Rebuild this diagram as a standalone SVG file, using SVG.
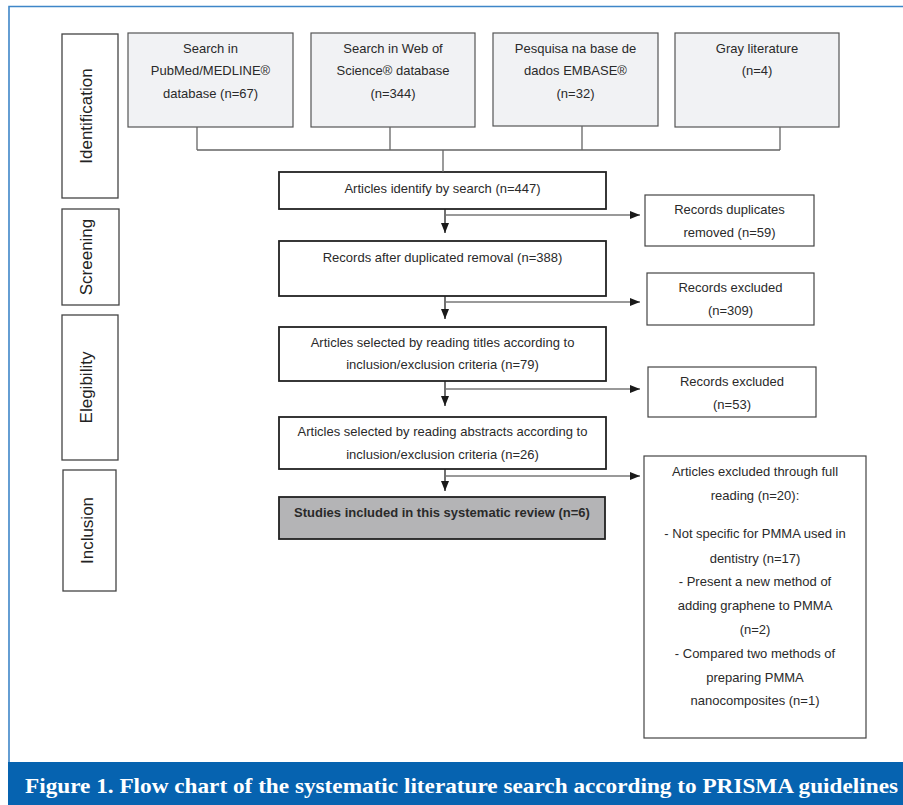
<svg xmlns="http://www.w3.org/2000/svg" width="903" height="805" viewBox="0 0 903 805">
<defs>
<style>
text{font-family:"Liberation Sans",Arial,sans-serif;font-size:13px;fill:#2a2a2a;text-anchor:middle}
.src{fill:#f1f2f4;stroke:#555;stroke-width:1.2}
.main{fill:#fff;stroke:#222;stroke-width:1.8}
.side{fill:#fff;stroke:#444;stroke-width:1.2}
.phase{fill:#fff;stroke:#444;stroke-width:1.3}
.ph{font-size:17px;fill:#222}
.con{fill:none;stroke:#666;stroke-width:1.3}
.dn{fill:none;stroke:#222;stroke-width:1.3}
.hz{fill:none;stroke:#777;stroke-width:1.5}
.cap{font-family:"Liberation Serif","Times New Roman",serif;font-weight:bold;font-size:22px;fill:#fff;text-anchor:start}
</style>
<marker id="ah" viewBox="0 0 10 8" refX="10" refY="4" markerWidth="10" markerHeight="8" markerUnits="userSpaceOnUse" orient="auto"><path d="M0,0 L10,4 L0,8 z" fill="#1a1a1a"/></marker>
</defs>
<rect width="903" height="805" fill="#fff"/>
<g id="frame">
<path d="M9,762 V6.5 H903" fill="none" stroke="#3f86c8" stroke-width="1.6"/>
<rect x="8" y="762" width="895" height="43" fill="#0663b0"/>
<text class="cap" x="25" y="793" textLength="873" lengthAdjust="spacingAndGlyphs">Figure 1. Flow chart of the systematic literature search according to PRISMA guidelines</text>
</g>
<g id="phase-identification"><rect class="phase" x="62" y="34" width="56" height="164"/><text class="ph" transform="translate(92,116) rotate(-90)">Identification</text></g>
<g id="phase-screening"><rect class="phase" x="62" y="209" width="57" height="96"/><text class="ph" transform="translate(92,257) rotate(-90)">Screening</text></g>
<g id="phase-elegibility"><rect class="phase" x="62" y="315" width="56" height="145"/><text class="ph" transform="translate(92,387.5) rotate(-90)">Elegibility</text></g>
<g id="phase-inclusion"><rect class="phase" x="63" y="470" width="53" height="121"/><text class="ph" transform="translate(93,530.5) rotate(-90)">Inclusion</text></g>
<g id="src-pubmed"><rect class="src" x="128" y="33" width="165" height="94"/><text x="210.5" y="52.5">Search in</text><text x="210.5" y="75">PubMed/MEDLINE®</text><text x="210.5" y="97.5">database (n=67)</text></g>
<g id="src-wos"><rect class="src" x="311" y="33" width="164" height="94"/><text x="393" y="52.5">Search in Web of</text><text x="393" y="75">Science® database</text><text x="393" y="97.5">(n=344)</text></g>
<g id="src-embase"><rect class="src" x="493" y="33" width="165" height="93"/><text x="575.5" y="52.5">Pesquisa na base de</text><text x="575.5" y="75">dados EMBASE®</text><text x="575.5" y="97.5">(n=32)</text></g>
<g id="src-gray"><rect class="src" x="675" y="33" width="164" height="94"/><text x="757" y="52.5">Gray literature</text><text x="757" y="75">(n=4)</text></g>
<g id="identified"><rect class="main" x="279" y="172" width="327" height="37"/><text x="442.5" y="192.5">Articles identify by search (n=447)</text></g>
<g id="dup-removed"><rect class="side" x="645" y="195" width="169" height="51"/><text x="729.5" y="214">Records duplicates</text><text x="729.5" y="237">removed (n=59)</text></g>
<g id="after-dup"><rect class="main" x="279" y="241" width="327" height="55"/><text x="442.5" y="261.5">Records after duplicated removal (n=388)</text></g>
<g id="excluded-309"><rect class="side" x="647" y="273" width="167" height="52"/><text x="730.5" y="291.5">Records excluded</text><text x="730.5" y="315">(n=309)</text></g>
<g id="titles"><rect class="main" x="279" y="327" width="327" height="54"/><text x="442.5" y="346.5">Articles selected by reading titles according to</text><text x="442.5" y="369">inclusion/exclusion criteria (n=79)</text></g>
<g id="excluded-53"><rect class="side" x="648" y="367" width="168" height="50"/><text x="732" y="386">Records excluded</text><text x="732" y="409">(n=53)</text></g>
<g id="abstracts"><rect class="main" x="279" y="417" width="327" height="52"/><text x="442.5" y="435.5">Articles selected by reading abstracts according to</text><text x="442.5" y="459">inclusion/exclusion criteria (n=26)</text></g>
<g id="included"><rect x="279" y="497" width="326" height="42" fill="#b4b4b6" stroke="#222" stroke-width="1.8"/><text x="442" y="516.5" font-weight="bold">Studies included in this systematic review (n=6)</text></g>
<g id="fulltext-excluded"><rect class="side" x="644" y="456" width="222" height="282"/>
<text x="755" y="476">Articles excluded through full</text>
<text x="755" y="499.5">reading (n=20):</text>
<text x="755" y="538">- Not specific for PMMA used in</text>
<text x="755" y="562.5">dentistry (n=17)</text>
<text x="755" y="586">- Present a new method of</text>
<text x="755" y="610">adding graphene to PMMA</text>
<text x="755" y="634">(n=2)</text>
<text x="755" y="657.5">- Compared two methods of</text>
<text x="755" y="681.5">preparing PMMA</text>
<text x="755" y="705">nanocomposites (n=1)</text>
</g>
<g id="connectors">
<path class="con" d="M197,127 V150 M390,127 V150 M582,126 V150 M780,127 V150 M197,150 H780 M443,150 V172"/>
<path class="dn" d="M445,209 V233" marker-end="url(#ah)"/>
<path class="hz" d="M446,215 H640" marker-end="url(#ah)"/>
<path class="dn" d="M445,296 V319" marker-end="url(#ah)"/>
<path class="hz" d="M446,302 H640" marker-end="url(#ah)"/>
<path class="dn" d="M445,381 V406" marker-end="url(#ah)"/>
<path class="hz" d="M446,389 H640" marker-end="url(#ah)"/>
<path class="dn" d="M445,469 V491" marker-end="url(#ah)"/>
<path class="hz" d="M446,476 H640" marker-end="url(#ah)"/>
</g>
</svg>
